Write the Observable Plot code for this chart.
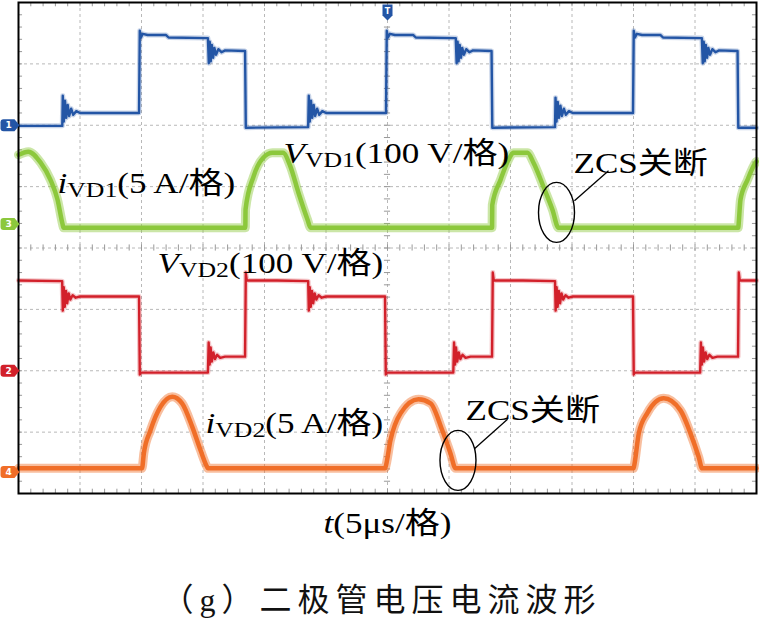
<!DOCTYPE html>
<html><head><meta charset="utf-8">
<script src="https://cdn.jsdelivr.net/npm/d3@7"></script>
<script src="https://cdn.jsdelivr.net/npm/@observablehq/plot@0.6"></script>
<style>
body{margin:0;background:#fff;}
#cap{font-family:"Liberation Serif","Noto Sans CJK SC";font-size:32px;letter-spacing:6px;text-align:center;margin-top:20px;line-height:40px;color:#111;padding-left:4px;}
</style></head><body><div id="chart"></div><div id="cap">（g）二极管电压电流波形</div>
<script>
// ---- data (time in µs, voltage in V, current in A) ----
const vd1 = [
 [0,-1],[3.56,-1],
 [3.6,48],[3.68,6],[3.78,40],[3.88,12],[4.0,33],[4.12,15],[4.28,27],[4.45,17],[4.7,23],[5.0,20],[9.8,20],
 [9.86,154],[9.96,143],[10.1,149],[10.5,147],[12.0,147],[12.2,143],[15.4,142],
 [15.47,101],[15.55,136],[15.63,104],[15.72,131],[15.82,110],[15.93,126],[16.06,115],[16.25,124],[16.5,119],[16.8,122],[18.42,121],
 [18.48,-4],[23.55,-3],
 [23.6,48],[23.68,6],[23.78,40],[23.88,12],[24.0,33],[24.12,15],[24.28,27],[24.45,17],[24.7,23],[25.0,20],[29.88,20],
 [29.94,154],[30.04,143],[30.2,149],[30.6,147],[32.1,147],[32.3,143],[35.55,142],
 [35.62,101],[35.7,136],[35.78,104],[35.87,131],[35.97,110],[36.08,126],[36.21,115],[36.4,124],[36.65,119],[36.95,122],[38.46,121],
 [38.52,-4],[43.62,-3],
 [43.66,45],[43.74,6],[43.84,38],[43.94,12],[44.06,32],[44.18,15],[44.34,27],[44.5,17],[44.75,23],[45.05,20],[49.96,20],
 [50.02,154],[50.12,143],[50.28,149],[50.7,147],[52.2,147],[52.4,143],[55.56,142],
 [55.63,101],[55.71,136],[55.79,104],[55.88,131],[55.98,110],[56.09,126],[56.22,115],[56.41,124],[56.66,119],[56.96,122],[58.46,121],
 [58.52,-4],[60,-4]
];
const vd2 = [
 [0,147],[3.55,146],
 [3.6,98],[3.68,136],[3.76,104],[3.86,130],[3.96,110],[4.08,126],[4.22,116],[4.4,123],[4.65,119],[5.0,121],[9.8,121],
 [9.86,-6],[9.95,-3],[15.4,-3],
 [15.46,46],[15.54,10],[15.62,38],[15.72,15],[15.84,30],[15.98,19],[16.15,26],[16.4,21],[16.8,23],[18.42,23],
 [18.48,160],[18.56,147],[21,147],[23.55,146],
 [23.6,98],[23.68,136],[23.76,104],[23.86,130],[23.96,110],[24.08,126],[24.22,116],[24.4,123],[24.65,119],[25.0,121],[29.8,121],
 [29.86,-6],[29.95,-3],[35.35,-3],
 [35.41,46],[35.49,10],[35.57,38],[35.67,15],[35.79,30],[35.93,19],[36.1,26],[36.35,21],[36.75,23],[38.5,23],
 [38.56,160],[38.64,147],[41,147],[43.62,146],
 [43.67,98],[43.75,136],[43.83,104],[43.93,130],[44.03,110],[44.15,126],[44.29,116],[44.47,123],[44.72,119],[45.07,121],[49.96,121],
 [50.02,-6],[50.11,-3],[55.42,-3],
 [55.48,46],[55.56,10],[55.64,38],[55.74,15],[55.86,30],[56.0,19],[56.17,26],[56.42,21],[56.82,23],[58.5,23],
 [58.56,160],[58.64,147],[60,147]
];
const id1 = [
 [0,5.94],[0.8,6.2],[1.8,5.3],[2.6,3.9],[3.17,2.3],[3.58,0.3],[3.66,0],[18.44,0],
 [18.46,1.5],[19.1,4.15],[19.9,5.7],[20.65,6.1],[21.5,6.1],[22.1,5.0],[22.76,2.85],[23.5,0.65],[23.74,0],[38.5,0],
 [38.52,1.87],[39.19,3.9],[39.84,5.54],[40.24,6.1],[41.38,6.1],[41.87,5.3],[42.68,3.34],[43.41,1.47],[43.9,0],[58.52,0],
 [58.54,0.2],[58.7,2.3],[59.27,3.9],[59.92,5.3],[60,5.4]
];
const id2 = [
 [0,0],[10.04,0],[10.19,1.22],[10.73,3.1],[11.54,5.0],[12.5,5.83],[13.3,5.3],[14.12,3.4],[14.8,1.47],[15.34,0.1],[15.4,0],[29.8,0],
 [29.84,0.1],[30.24,2.28],[31.06,4.48],[32.52,5.62],[33.5,5.3],[34.45,3.1],[35.12,1.22],[35.53,0],[50.0,0],
 [50.03,0.1],[50.43,2.85],[51.11,4.48],[52.46,5.7],[53.82,4.72],[54.63,2.85],[55.3,0.92],[55.58,0],[60,0]
];
// channel ground markers
const channels = ["1","3","2","4"];
const channelGround = [6.0, 4.39, 2.0, 0.35];
// labels
const labelText = [
 [["V","it"],["VD1","sub"],["(100 V/格)",""]],
 [["i","it"],["VD1","sub"],["(5 A/格)",""]],
 [["V","it"],["VD2","sub"],["(100 V/格)",""]],
 [["i","it"],["VD2","sub"],["(5 A/格)",""]],
 [["ZCS关断",""]],
 [["ZCS关断",""]],
 [["t","it"],["(5μs/格)",""]]
];
const labelT = [21.54, 3.17, 11.3, 15.2, 45.12, 36.34, 24.8];
const labelV = [5.39, 4.89, 3.6, 0.99, 5.23, 1.19, -0.65];
const ellipseT = [43.74, 35.73];
const ellipseV = [4.58, 0.54];
const leaderT1 = [45.2, 37.07], leaderV1 = [4.77, 0.73];
const leaderT2 = [47.97, 39.76], leaderV2 = [5.26, 1.21];

// ---- config ----
const off = {ch1: 6.0, ch3: 4.33, ch2: 2.0, ch4: 0.41};
const voltPerDiv = 100, ampPerDiv = 5;
const col = {ch1: "#2355a5", ch3: "#8cc83c", ch2: "#d2202a", ch4: "#f06e28"};
const chanColor = [col.ch1, col.ch3, col.ch2, col.ch4];

const labels = labelText.map((parts, i) => ({parts, t: labelT[i], v: labelV[i], s: parts.map(p => p[0]).join("")}));
const ellipses = ellipseT.map((t, i) => ({t, v: ellipseV[i]}));
const leaders = leaderT1.map((t, i) => ({t1: t, v1: leaderV1[i], t2: leaderT2[i], v2: leaderV2[i]}));
const markers = channels.map((c, i) => ({c, v: channelGround[i], color: chanColor[i]}));

const tagSymbol = {draw(ctx) { ctx.moveTo(-15, -6); ctx.lineTo(-4, -6); ctx.lineTo(1, 0); ctx.lineTo(-4, 6); ctx.lineTo(-15, 6); ctx.quadraticCurveTo(-18, 6, -18, 3); ctx.lineTo(-18, -3); ctx.quadraticCurveTo(-18, -6, -15, -6); ctx.closePath(); }};
const trigSymbol = {draw(ctx) { ctx.moveTo(-5, 2); ctx.lineTo(5, 2); ctx.lineTo(5, 13); ctx.lineTo(0, 18); ctx.lineTo(-5, 13); ctx.closePath(); }};
const ellSymbol = {draw(ctx) { const rx = 18, ry = 30, k = 0.5523;
 ctx.moveTo(rx, 0); ctx.bezierCurveTo(rx, k*ry, k*rx, ry, 0, ry); ctx.bezierCurveTo(-k*rx, ry, -rx, k*ry, -rx, 0);
 ctx.bezierCurveTo(-rx, -k*ry, -k*rx, -ry, 0, -ry); ctx.bezierCurveTo(k*rx, -ry, rx, -k*ry, rx, 0); ctx.closePath(); }};

const minorT = d3.range(0, 60.001, 1);
const minorV = d3.range(0, 8.001, 0.2);
const grid = {stroke: "#b8b8b8", strokeDasharray: "3,3", strokeWidth: 1};
const tk = {stroke: "#999", strokeWidth: 1};

function trace(data, offset, perDiv, color, thick) {
  const o = {x: d => d[0], y: d => offset + d[1] / perDiv, stroke: color, strokeLinejoin: "round", strokeLinecap: "round"};
  if (thick) return [Plot.line(data, {...o, curve: "monotone-x", strokeWidth: 9, strokeOpacity: 0.45}),
                     Plot.line(data, {...o, curve: "monotone-x", strokeWidth: 4.5})];
  return [Plot.line(data, {...o, strokeWidth: 5, strokeOpacity: 0.25}), Plot.line(data, {...o, strokeWidth: 2.4})];
}

const svg = Plot.plot({
  width: 759, height: 560,
  marginLeft: 18, marginRight: 3, marginTop: 2, marginBottom: 67,
  x: {domain: [0, 60], axis: null},
  y: {domain: [0, 8], axis: null},
  style: {background: "white"},
  marks: [
    Plot.ruleX(d3.range(5, 60, 5), {x: d => d, ...grid}),
    Plot.ruleY(d3.range(1, 8, 1), {y: d => d, ...grid}),
    Plot.ruleX(minorT, {x: d => d, y1: 8, y2: 7.93, ...tk}),
    Plot.ruleX(minorT, {x: d => d, y1: 0, y2: 0.07, ...tk}),
    Plot.ruleX(minorT, {x: d => d, y1: 3.95, y2: 4.05, ...tk}),
    Plot.ruleY(minorV, {y: d => d, x1: 0, x2: 0.33, ...tk}),
    Plot.ruleY(minorV, {y: d => d, x1: 60, x2: 59.67, ...tk}),
    Plot.ruleY(minorV, {y: d => d, x1: 29.75, x2: 30.25, ...tk}),
    ...trace(vd1, off.ch1, voltPerDiv, col.ch1, false),
    ...trace(id1, off.ch3, ampPerDiv, col.ch3, true),
    ...trace(vd2, off.ch2, voltPerDiv, col.ch2, false),
    ...trace(id2, off.ch4, ampPerDiv, col.ch4, true),
    Plot.frame({stroke: "black", strokeWidth: 2}),
    Plot.dot(ellipses, {x: "t", y: "v", symbol: ellSymbol, fill: "none", stroke: "black", strokeWidth: 1.4}),
    Plot.link(leaders, {x1: "t1", y1: "v1", x2: "t2", y2: "v2", stroke: "black", strokeWidth: 1.3}),
    Plot.text(labels, {x: "t", y: "v", text: "s", textAnchor: "start", lineAnchor: "bottom", fontSize: 30,
      fontFamily: "'Liberation Serif','Noto Sans CJK SC',serif", fill: "black"}),
    Plot.dot(markers, {x: () => 0, y: "v", symbol: tagSymbol, fill: "color", stroke: "none"}),
    Plot.text(markers, {x: () => 0, y: "v", text: "c", dx: -10, fill: "white", fontSize: 9, fontWeight: "bold", fontFamily: "'DejaVu Sans'"}),
    Plot.dot([30], {x: d => d, y: () => 8, symbol: trigSymbol, fill: col.ch1, stroke: "none"}),
    Plot.text([30], {x: d => d, y: () => 8, text: () => "T", dy: 9, fill: "white", fontSize: 8, fontWeight: "bold", fontFamily: "'DejaVu Sans'"})
  ]
});
document.getElementById("chart").appendChild(svg);

// rich text: italics, subscripts, horizontal stretch of the label glyphs
d3.select(svg).selectAll("text").each(function () {
  const lab = labels.find(l => l.s === this.textContent);
  if (!lab) return;
  const el = d3.select(this);
  el.text("");
  let shifted = false;
  for (const [str, style] of lab.parts) {
    const ts = el.append("tspan").text(str);
    if (style === "it") ts.attr("font-style", "italic");
    if (style === "sub") { ts.attr("font-size", 22).attr("dy", 4); shifted = true; }
    else if (shifted) { ts.attr("dy", -4); shifted = false; }
  }
  let tr = this.getAttribute("transform") || "";
  const x = this.getAttribute("x"), y = this.getAttribute("y");
  if (x !== null && !isNaN(+x)) { tr += ` translate(${x},0)`; this.removeAttribute("x"); }
  if (y !== null && !isNaN(+y)) { tr += ` translate(0,${y})`; this.removeAttribute("y"); }
  this.setAttribute("transform", tr + " scale(1.17,1)");
});
</script></body></html>
